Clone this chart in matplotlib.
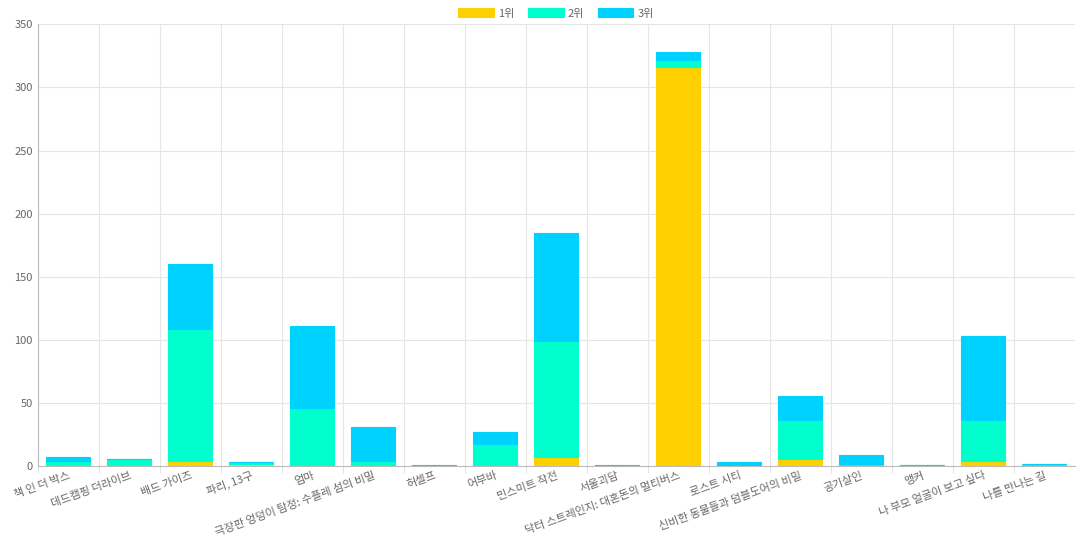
import matplotlib.pyplot as plt
import numpy as np

plt.rcParams['font.family'] = ['Noto Sans CJK KR', 'DejaVu Sans']

titles = ['책 인 더 박스', '데드캠핑 더라이브', '배드 가이즈', '파리, 13구', '엄마',
          '극장판 엉덩이 탐정: 수플레 섬의 비밀', '허셀프', '어부바', '민스미트 작전', '서울괴담',
          '닥터 스트레인지: 대혼돈의 멀티버스', '로스트 시티', '신비한 동물들과 덤블도어의 비밀',
          '공기살인', '앵커', '나 부모 얼굴이 보고 싶다', '나를 만나는 길']
rank1 = [0, 1, 4, 2, 1, 1, 0, 1, 7, 0, 316, 0, 6, 1, 0, 4, 1]
rank2 = [4, 5, 105, 1, 45, 3, 0, 17, 92, 0, 6, 1, 31, 1, 1, 33, 1]
rank3 = [3, 0, 51, 0, 65, 27, 1, 9, 86, 1, 6, 2, 19, 7, 0, 66, 0]
series = [('1위', rank1, '#FFD000'), ('2위', rank2, '#00FFCC'), ('3위', rank3, '#00D2FF')]

fig, ax = plt.subplots(figsize=(10.78, 5.39), dpi=100)
fig.subplots_adjust(left=0.035, right=0.997, top=0.955, bottom=0.135)
x = np.arange(len(titles))
bottom = np.zeros(len(titles))
for name, vals, color in series:
    ax.bar(x, vals, 0.72, bottom=bottom, color=color, edgecolor=color, linewidth=0.8, label=name, zorder=3)
    bottom += np.array(vals)

ax.set_xlim(-0.5, len(titles) - 0.5)
ax.set_ylim(0, 350)
ax.set_yticks(range(0, 351, 50))
ax.set_xticks(x - 0.5, minor=True)
ax.set_xticks(x)
ax.set_xticklabels(titles, rotation=20, ha='right', rotation_mode='anchor', fontsize=8, color='#666666')
ax.tick_params(axis='y', labelsize=8, colors='#666666', length=0)
ax.tick_params(axis='x', which='major', length=0, pad=3)
ax.tick_params(axis='x', which='minor', length=5, color='#dddddd')
ax.grid(True, which='minor', axis='x', color='#e6e6e6', linewidth=0.8, zorder=0)
ax.grid(True, which='major', axis='y', color='#e6e6e6', linewidth=0.8, zorder=0)
for s in ['top', 'right']:
    ax.spines[s].set_visible(False)
for s in ['left', 'bottom']:
    ax.spines[s].set_color('#bbbbbb')

ax.legend(loc='lower center', bbox_to_anchor=(0.5, 1.0), ncol=3, frameon=False, fontsize=8,
          handlelength=3.2, handleheight=0.9, columnspacing=1.2, handletextpad=0.4, borderaxespad=0.1)
for t in ax.get_legend().get_texts():
    t.set_color('#666666')

fig.savefig('out.png', dpi=100)
